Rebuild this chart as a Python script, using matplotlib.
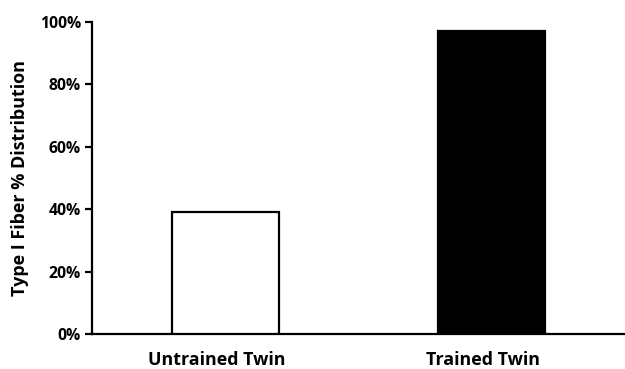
import matplotlib
matplotlib.use("Agg")
import matplotlib.pyplot as plt
import matplotlib.transforms as mtransforms
from matplotlib.ticker import PercentFormatter

categories = ["Untrained Twin", "Trained Twin"]
values = [39, 97]
bar_colors = ["white", "black"]
y_ticks = [0, 20, 40, 60, 80, 100]

plt.rcParams['font.family'] = ['Open Sans', 'DejaVu Sans']
plt.rcParams['font.weight'] = 'bold'

fig = plt.figure(figsize=(6.25, 3.69), dpi=100)
ax = fig.add_axes([0.1472, 0.0949, 0.8528, 0.8455])

x = range(len(categories))
ax.bar(x, values, width=0.4, color=bar_colors, edgecolor="black", linewidth=1.6, zorder=3)

ax.set_xlim(-0.5, 1.5)
ax.set_ylim(0, 100)
ax.set_yticks(y_ticks)
ax.yaxis.set_major_formatter(PercentFormatter(decimals=0))
ax.set_xticks(list(x))
ax.set_xticklabels(categories, fontsize=12.9, fontweight='bold')
ax.tick_params(axis='x', length=0, pad=12)
ax.tick_params(axis='y', length=5, width=1.6, direction='out', labelsize=11.3, pad=3)
for lbl in ax.get_yticklabels():
    lbl.set_fontweight('bold')

shift = mtransforms.ScaledTranslation(-0.09, 0, fig.dpi_scale_trans)
for lbl in ax.get_xticklabels():
    lbl.set_transform(lbl.get_transform() + shift)

for s in ["top", "right"]:
    ax.spines[s].set_visible(False)
for s in ["left", "bottom"]:
    ax.spines[s].set_linewidth(1.6)

ax.set_ylabel("Type I Fiber % Distribution", fontsize=13, fontweight='bold', labelpad=8)

fig.savefig("out.png", dpi=100)
